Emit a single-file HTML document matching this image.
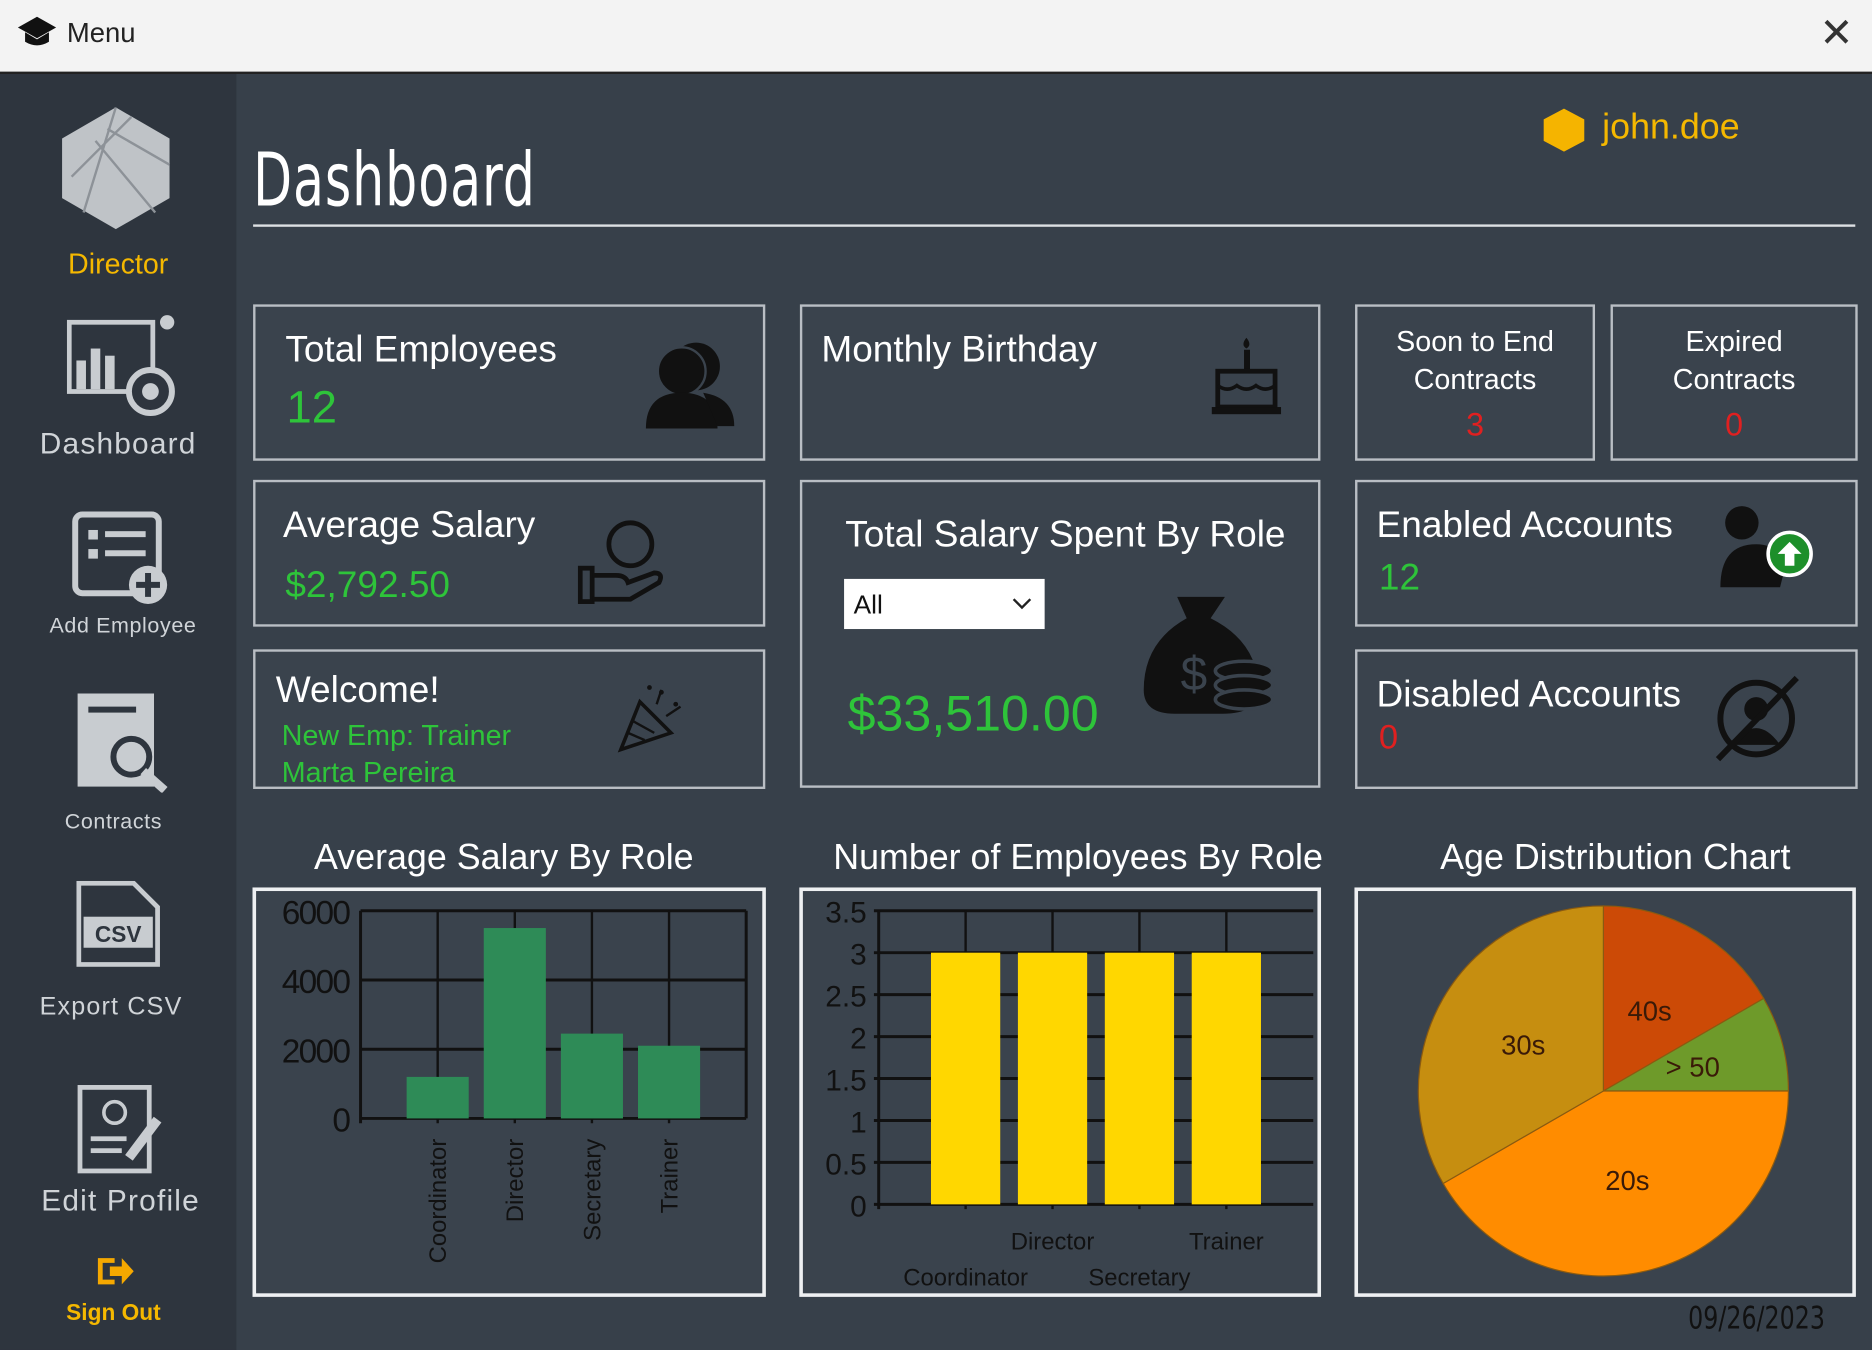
<!DOCTYPE html>
<html><head><meta charset="utf-8">
<style>
html,body{margin:0;padding:0;width:1872px;height:1350px;overflow:hidden;background:#37404a;}
#wrap{position:absolute;left:0;top:0;width:1568px;height:1131px;transform:scale(1.19388,1.19363);transform-origin:0 0;font-family:"Liberation Sans",sans-serif;}
.abs{position:absolute;}
.card{position:absolute;border:2px solid #b9bec4;background:#3a434d;box-sizing:border-box;color:#fff;}
.t{position:absolute;color:#fff;white-space:nowrap;}
.g{color:#2ec43a;}
.r{color:#e02020;}
.nav{position:absolute;left:0;width:198px;text-align:center;color:#d0d4d8;}
</style></head><body>
<div id="wrap">
 <div class="abs" style="left:0;top:0;width:1568px;height:60px;background:#f3f3f3;border-bottom:2px solid #222;">
  <svg class="abs" style="left:14px;top:12px" width="34" height="30"><polygon points="17,2 33,11 17,20 1,11" fill="#111"/><path d="M7 15 v8 q10 6 20 0 v-8 l-10 6z" fill="#111"/></svg>
  <div class="t" style="left:56px;top:14px;font-size:23px;color:#222">Menu</div>
  <div class="t" style="left:1524px;top:8px;font-size:34px;color:#333;font-weight:300">✕</div>
 </div>
 <div class="abs" style="left:0;top:62px;width:198px;height:1069px;background:#2e353e;"></div>
 <svg class="abs" style="left:50px;top:88px" width="94" height="106"><polygon points="47,2 92,28 92,78 47,104 2,78 2,28" fill="#bfc3c7"/><path d="M47 2 L20 90 M60 10 L10 60 M92 50 L40 20 M30 30 L80 90" stroke="#8d9298" stroke-width="2"/></svg>
 <div class="nav" style="top:208px;font-size:24px;color:#f5b800">Director</div>
 <svg class="abs" style="left:56px;top:262px" width="94" height="90"><rect x="2" y="8" width="70" height="58" fill="none" stroke="#c8ccd0" stroke-width="4"/><rect x="8" y="40" width="8" height="24" fill="#c8ccd0"/><rect x="20" y="30" width="8" height="34" fill="#c8ccd0"/><rect x="32" y="36" width="8" height="28" fill="#c8ccd0"/><circle cx="70" cy="66" r="18" fill="#2e353e" stroke="#c8ccd0" stroke-width="5"/><circle cx="70" cy="66" r="7" fill="#c8ccd0"/><circle cx="84" cy="8" r="6" fill="#c8ccd0"/></svg>
 <div class="nav" style="top:358px;font-size:25px;letter-spacing:1px">Dashboard</div>
 <svg class="abs" style="left:60px;top:428px" width="84" height="80"><rect x="3" y="3" width="70" height="66" rx="6" fill="none" stroke="#c8ccd0" stroke-width="5"/><rect x="14" y="16" width="8" height="8" fill="#c8ccd0"/><rect x="28" y="17" width="34" height="5" fill="#c8ccd0"/><rect x="14" y="32" width="8" height="8" fill="#c8ccd0"/><rect x="28" y="33" width="34" height="5" fill="#c8ccd0"/><circle cx="64" cy="62" r="16" fill="#c8ccd0"/><path d="M64 52v20M54 62h20" stroke="#2e353e" stroke-width="5"/></svg>
 <div class="nav" style="top:514px;font-size:18px;left:4px;letter-spacing:.5px">Add Employee</div>
 <svg class="abs" style="left:62px;top:578px" width="84" height="86"><rect x="3" y="3" width="64" height="78" fill="#c8ccd0"/><rect x="12" y="14" width="40" height="5" fill="#2e353e"/><circle cx="48" cy="56" r="15" fill="#c8ccd0" stroke="#2e353e" stroke-width="5"/><path d="M58 68 l18 16" stroke="#c8ccd0" stroke-width="7"/></svg>
 <div class="nav" style="top:678px;font-size:18px;left:-4px;letter-spacing:.5px">Contracts</div>
 <svg class="abs" style="left:64px;top:738px" width="70" height="72"><path d="M2 2h46l20 20v48h-66z" fill="none" stroke="#c8ccd0" stroke-width="4"/><rect x="6" y="30" width="58" height="26" fill="#c8ccd0"/><text x="35" y="51" font-size="19" font-weight="bold" text-anchor="middle" fill="#2e353e" font-family="Liberation Sans">CSV</text></svg>
 <div class="nav" style="top:832px;font-size:21px;left:-6px;letter-spacing:1px">Export CSV</div>
 <svg class="abs" style="left:64px;top:908px" width="76" height="76"><rect x="3" y="3" width="58" height="70" fill="none" stroke="#c8ccd0" stroke-width="4"/><circle cx="32" cy="24" r="9" fill="none" stroke="#c8ccd0" stroke-width="3"/><rect x="12" y="44" width="30" height="4" fill="#c8ccd0"/><rect x="12" y="54" width="26" height="4" fill="#c8ccd0"/><path d="M44 62 l24-32" stroke="#c8ccd0" stroke-width="8"/></svg>
 <div class="nav" style="top:992px;font-size:25px;left:2px;letter-spacing:1px">Edit Profile</div>
 <svg class="abs" style="left:80px;top:1050px" width="34" height="30"><path d="M2 4h14v4h-10v14h10v4h-14z" fill="#f5a800"/><path d="M12 11h10v-7l10 11-10 11v-7h-10z" fill="#f5a800"/></svg>
 <div class="nav" style="top:1090px;font-size:19px;color:#f5b800;font-weight:bold;left:-4px">Sign Out</div>

 <div class="t" style="left:212px;top:114px;font-size:62px;font-family:'DejaVu Sans Condensed','Liberation Sans',sans-serif;letter-spacing:1px;transform:scaleX(.76);transform-origin:0 0">Dashboard</div>
 <div class="abs" style="left:212px;top:188px;width:1342px;height:2px;background:#dde0e3"></div>
 <svg class="abs" style="left:1292px;top:90px" width="36" height="38"><polygon points="18,1 35,10 35,28 18,37 1,28 1,10" fill="#f5b400"/></svg>
 <div class="t" style="left:1342px;top:90px;font-size:30px;color:#f5b800">john.doe</div>

 <div class="card" style="left:212px;top:255px;width:429px;height:131px">
  <div class="t" style="left:25px;top:18px;font-size:31px">Total Employees</div>
  <div class="t g" style="left:26px;top:64px;font-size:38px">12</div>
  <svg class="abs" style="left:325px;top:26px" width="80" height="80"><circle cx="44" cy="24" r="20" fill="#111"/><circle cx="32" cy="28" r="20" fill="#111" stroke="#3a434d" stroke-width="2"/><path d="M2 76 q0-30 30-30 q30 0 30 30z" fill="#111"/><path d="M50 46 q26 4 26 28h-14z" fill="#111"/></svg>
 </div>
 <div class="card" style="left:670px;top:255px;width:436px;height:131px">
  <div class="t" style="left:16px;top:18px;font-size:31px">Monthly Birthday</div>
  <svg class="abs" style="left:340px;top:24px" width="64" height="70"><rect x="30" y="12" width="5" height="18" fill="#111"/><path d="M32 2 q5 6 0 9 q-5-3 0-9z" fill="#111"/><rect x="8" y="30" width="48" height="30" fill="none" stroke="#111" stroke-width="4"/><path d="M8 42 q8 6 16 0 q8 6 16 0 q8 6 16 0" fill="none" stroke="#111" stroke-width="3"/><rect x="3" y="60" width="58" height="6" fill="#111"/></svg>
 </div>
 <div class="card" style="left:1135px;top:255px;width:201px;height:131px">
  <div class="t" style="left:0;width:197px;text-align:center;top:14px;font-size:24px;line-height:32px">Soon to End<br>Contracts</div>
  <div class="t r" style="left:0;width:197px;text-align:center;top:84px;font-size:27px">3</div>
 </div>
 <div class="card" style="left:1349px;top:255px;width:207px;height:131px">
  <div class="t" style="left:0;width:203px;text-align:center;top:14px;font-size:24px;line-height:32px">Expired<br>Contracts</div>
  <div class="t r" style="left:0;width:203px;text-align:center;top:84px;font-size:27px">0</div>
 </div>

 <div class="card" style="left:212px;top:402px;width:429px;height:123px">
  <div class="t" style="left:23px;top:18px;font-size:31px">Average Salary</div>
  <div class="t g" style="left:25px;top:68px;font-size:31px">$2,792.50</div>
  <svg class="abs" style="left:270px;top:28px" width="76" height="76"><circle cx="44" cy="24" r="18" fill="none" stroke="#111" stroke-width="4"/><rect x="2" y="44" width="10" height="28" fill="none" stroke="#111" stroke-width="4"/><path d="M12 50 h20 q8 0 10 6 l22-8 q8 0 4 8 l-24 14 h-32" fill="none" stroke="#111" stroke-width="4"/></svg>
 </div>
 <div class="card" style="left:670px;top:402px;width:436px;height:258px">
  <div class="t" style="left:36px;top:26px;font-size:31px">Total Salary Spent By Role</div>
  <div class="abs" style="left:35px;top:81px;width:168px;height:42px;background:#fff">
   <div class="t" style="left:8px;top:9px;font-size:22px;color:#111">All</div>
   <svg class="abs" style="left:140px;top:14px" width="18" height="14"><path d="M2 3 l7 7 7-7" stroke="#222" stroke-width="2" fill="none"/></svg>
  </div>
  <div class="t g" style="left:38px;top:170px;font-size:42px">$33,510.00</div>
  <svg class="abs" style="left:284px;top:88px" width="112" height="112"><path d="M30 8 h40 l-12 18 q40 20 40 60 q0 20 -30 20 h-40 q-26 0 -26-20 q0-40 36-60z" fill="#111"/><text x="44" y="86" font-size="40" fill="#3a434d" font-family="Liberation Sans" text-anchor="middle">$</text><ellipse cx="86" cy="70" rx="24" ry="8" fill="#111" stroke="#3a434d" stroke-width="3"/><ellipse cx="86" cy="82" rx="24" ry="8" fill="#111" stroke="#3a434d" stroke-width="3"/><ellipse cx="86" cy="94" rx="24" ry="8" fill="#111" stroke="#3a434d" stroke-width="3"/></svg>
 </div>
 <div class="card" style="left:1135px;top:402px;width:421px;height:123px">
  <div class="t" style="left:16px;top:18px;font-size:31px">Enabled Accounts</div>
  <div class="t g" style="left:18px;top:62px;font-size:31px">12</div>
  <svg class="abs" style="left:302px;top:18px" width="84" height="74"><circle cx="20" cy="16" r="14" fill="#111"/><path d="M2 70 q0-36 30-36 q20 0 24 20 l-4 16z" fill="#111"/><circle cx="60" cy="42" r="18" fill="#1d8f2a" stroke="#fff" stroke-width="3"/><path d="M60 32 l-10 10 h6 v10 h8 v-10 h6z" fill="#fff"/></svg>
 </div>

 <div class="card" style="left:212px;top:544px;width:429px;height:117px">
  <div class="t" style="left:17px;top:14px;font-size:31px">Welcome!</div>
  <div class="t g" style="left:22px;top:55px;font-size:24px;line-height:31px">New Emp: Trainer<br>Marta Pereira</div>
  <svg class="abs" style="left:300px;top:24px" width="64" height="64"><path d="M6 58 l16-40 26 26z" fill="none" stroke="#111" stroke-width="3"/><path d="M12 44 l14 6 M16 34 l18 10" stroke="#111" stroke-width="2"/><circle cx="40" cy="10" r="2" fill="#111"/><circle cx="52" cy="20" r="2" fill="#111"/><circle cx="30" cy="6" r="2" fill="#111"/><path d="M44 30 l12-8 M36 20 l4-12" stroke="#111" stroke-width="2"/></svg>
 </div>
 <div class="card" style="left:1135px;top:544px;width:421px;height:117px">
  <div class="t" style="left:16px;top:18px;font-size:31px">Disabled Accounts</div>
  <div class="t r" style="left:18px;top:56px;font-size:29px">0</div>
  <svg class="abs" style="left:298px;top:18px" width="76" height="74"><circle cx="36" cy="38" r="30" fill="none" stroke="#111" stroke-width="5"/><circle cx="36" cy="30" r="10" fill="#111"/><path d="M16 60 q20-28 40 0" fill="#111"/><path d="M4 72 L70 4" stroke="#111" stroke-width="5"/></svg>
 </div>

 <div class="t" style="left:212px;width:420px;text-align:center;top:702px;font-size:30px">Average Salary By Role</div>
 <div class="t" style="left:670px;width:466px;text-align:center;top:702px;font-size:30px">Number of Employees By Role</div>
 <div class="t" style="left:1135px;width:436px;text-align:center;top:702px;font-size:30px">Age Distribution Chart</div>

 <svg class="abs" style="left:0;top:0" width="1568" height="1131" id="charts">
  <rect x="213" y="745" width="427" height="340" fill="#3a434d" stroke="#eef0f2" stroke-width="3"/>
  <rect x="671" y="745" width="434" height="340" fill="#3a434d" stroke="#eef0f2" stroke-width="3"/>
  <rect x="1136" y="745" width="417" height="340" fill="#3a434d" stroke="#eef0f2" stroke-width="3"/>
  <g id="c1"></g><g id="c2"></g><g id="c3"></g>
 </svg>
 <div class="t" style="left:1414px;top:1090px;font-size:26px;color:#111;font-family:'DejaVu Sans Condensed',sans-serif;transform:scaleX(.85);transform-origin:0 0">09/26/2023</div>
</div>
<script>
const salaryRoles = ["Coordinator","Director","Secretary","Trainer"];
const salaryValues = [1200, 5500, 2450, 2100];
const salaryTicks = [0, 2000, 4000, 6000];
const countRoles = ["Coordinator","Director","Secretary","Trainer"];
const countValues = [3, 3, 3, 3];
const countTicks = [0, 0.5, 1, 1.5, 2, 2.5, 3, 3.5];
const ageLabels = ["40s", "> 50", "20s", "30s"];
const ageValues = [2, 1, 5, 4];
const ageColors = ["#cc4a06", "#6e9a2a", "#ff8c00", "#c68e10"];

const NS = "http://www.w3.org/2000/svg";
function mk(tag, attrs, parent){const e=document.createElementNS(NS,tag);for(const k in attrs)e.setAttribute(k,attrs[k]);parent.appendChild(e);return e;}
function txt(s, attrs, parent){const e=mk("text",attrs,parent);e.textContent=s;return e;}

// Chart 1
(function(){
 const g=document.getElementById("c1");
 const x0=302,x1=625,yb=937,yt=763,max=6000,n=salaryRoles.length;
 const xs=i=>x0+(x1-x0)*(i+1)/(n+1);
 const ys=v=>yb-(yb-yt)*v/max;
 salaryTicks.forEach(t=>{const l=mk("line",{x1:x0,x2:x1,y1:ys(t),y2:ys(t),stroke:"#111","stroke-width":2.5},g);
  
  
  const tt=txt(String(t),{x:x0-8,y:ys(t)+11,"font-size":28,"text-anchor":"end",fill:"#111","font-family":"Liberation Sans Narrow, Liberation Sans",textLength:t?58:0},g);
  if(!t) tt.removeAttribute("textLength");
  
  });
 mk("line",{x1:x0,x2:x0,y1:yt,y2:yb+4,stroke:"#111","stroke-width":2.5},g);
 mk("line",{x1:x1,x2:x1,y1:yt,y2:yb,stroke:"#111","stroke-width":2.5},g);
 salaryRoles.forEach((r,i)=>{
  mk("line",{x1:xs(i),x2:xs(i),y1:yt,y2:yb+4,stroke:"#111","stroke-width":2},g);
  const b=mk("rect",{x:xs(i)-26,y:ys(salaryValues[i]),width:52,height:yb-ys(salaryValues[i]),fill:"#2e8b57"},g);
  
  
  const t=txt(r,{x:0,y:0,"font-size":20,fill:"#111","text-anchor":"end",transform:`translate(${xs(i)+7},${yb+17}) rotate(-90)`},g);
  
  
 });
})();
// Chart 2
(function(){
 const g=document.getElementById("c2");
 const x0=736,x1=1100,yb=1009,yt=763,max=3.5,n=countRoles.length;
 const xs=i=>x0+(x1-x0)*(i+1)/(n+1);
 const ys=v=>yb-(yb-yt)*v/max;
 countTicks.forEach(t=>{const l=mk("line",{x1:x0-4,x2:x1,y1:ys(t),y2:ys(t),stroke:"#111","stroke-width":2.5},g);
  
  
  const tt=txt(String(t),{x:x0-10,y:ys(t)+10,"font-size":25,"text-anchor":"end",fill:"#111"},g);
  
  });
 mk("line",{x1:x0,x2:x0,y1:yt,y2:yb+4,stroke:"#111","stroke-width":2.5},g);
 countRoles.forEach((r,i)=>{
  mk("line",{x1:xs(i),x2:xs(i),y1:yt,y2:yb+4,stroke:"#111","stroke-width":2},g);
  const b=mk("rect",{x:xs(i)-29,y:ys(countValues[i]),width:58,height:yb-ys(countValues[i]),fill:"#ffd700"},g);
  
  
  const t=txt(r,{x:xs(i),y:i%2?1047:1077,"font-size":20,fill:"#111","text-anchor":"middle"},g);
  
  
 });
})();
// Chart 3 pie
(function(){
 const g=document.getElementById("c3");
 const cx=1343,cy=914,R=155;
 const tot=ageValues.reduce((a,b)=>a+b,0);
 let a=0;
 ageValues.forEach((v,i)=>{
  const a0=a,a1=a+v/tot*2*Math.PI;a=a1;
  const p=t=>[cx+R*Math.sin(t),cy-R*Math.cos(t)];
  const [sx,sy]=p(a0),[ex,ey]=p(a1);
  const s=mk("path",{d:`M${cx} ${cy} L${sx} ${sy} A${R} ${R} 0 ${a1-a0>Math.PI?1:0} 1 ${ex} ${ey}Z`,fill:ageColors[i],stroke:"#8a5a10","stroke-width":1},g);
  
  
  const m=(a0+a1)/2,rr=R*0.5;
  const t=txt(ageLabels[i],{x:cx+rr*Math.sin(m),y:cy-rr*Math.cos(m)+8,"font-size":23,fill:"#3a1a08","text-anchor":"middle"},g);
  
  
 });
})();
</script>
</body></html>
